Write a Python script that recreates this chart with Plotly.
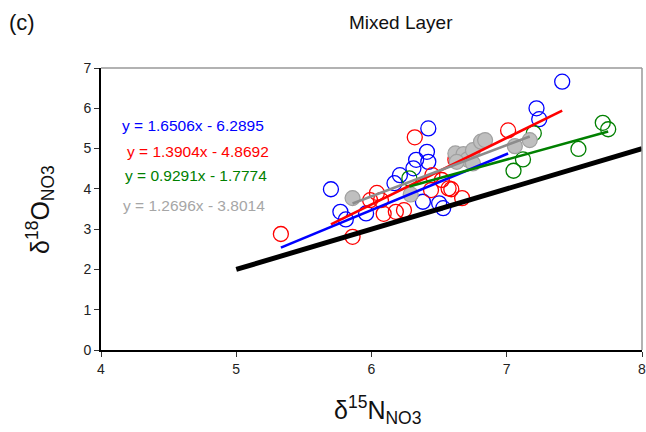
import plotly.graph_objects as go

# ---- data ----
blue_x = [5.70, 5.77, 5.81, 5.96, 6.17, 6.21, 6.31, 6.33, 6.41, 6.42, 6.42, 6.38, 6.50, 6.53, 7.22, 7.24, 7.41]
blue_y = [3.99, 3.43, 3.24, 3.39, 4.14, 4.34, 4.51, 4.72, 4.92, 4.67, 5.50, 3.68, 3.64, 3.52, 6.00, 5.73, 6.66]

red_x = [5.33, 5.86, 5.99, 6.04, 6.07, 6.09, 6.18, 6.24, 6.32, 6.44, 6.45, 6.52, 6.57, 6.59, 6.62, 6.67, 7.01]
red_y = [2.88, 2.81, 3.72, 3.90, 3.72, 3.38, 3.43, 3.47, 5.28, 3.97, 4.34, 4.22, 4.01, 3.99, 4.72, 3.77, 5.45]

green_x = [6.28, 7.05, 7.12, 7.20, 7.53, 7.71, 7.75]
green_y = [4.26, 4.45, 4.73, 5.38, 4.99, 5.64, 5.48]

gray_x = [5.86, 6.29, 6.62, 6.68, 6.71, 6.75, 6.75, 6.81, 6.84, 7.06, 7.17, 6.63]
gray_y = [3.77, 3.86, 4.88, 4.86, 4.73, 4.96, 4.63, 5.17, 5.21, 5.06, 5.21, 4.67]

# trendline equations (as printed), per series
eq_slopes = [1.6506, 1.3904, 0.9291, 1.2696]
eq_intercepts = [-6.2895, -4.8692, -1.7774, -3.8014]
eq_text_colors = ["#0000ff", "#ff0000", "#008000", "#a6a6a6"]
# line colours as drawn in the reference (blue/red lines appear swapped)
eq_line_colors = ["#ff0000", "#0000ff", "#008000", "#8c8c8c"]
eq_series_x = [blue_x, red_x, green_x, gray_x]

# 1:1 reference line
ref_x = [5, 8]
ref_y = [2, 5]

x_ticks = [4, 5, 6, 7, 8]
y_ticks = [0, 1, 2, 3, 4, 5, 6, 7]

FONT = "Liberation Sans, Arial, sans-serif"

fig = go.Figure()

for xs, ys, col in [(blue_x, blue_y, "#0000ff"), (red_x, red_y, "#ff0000"), (green_x, green_y, "#008000")]:
    fig.add_trace(go.Scatter(x=xs, y=ys, mode="markers",
                             marker=dict(symbol="circle-open", size=15, color=col, line=dict(width=1.3, color=col)),
                             showlegend=False, hoverinfo="skip"))

fig.add_trace(go.Scatter(x=gray_x, y=gray_y, mode="markers",
                         marker=dict(symbol="circle", size=15, color="#bfbfbf", line=dict(width=1.2, color="#a0a0a0")),
                         showlegend=False, hoverinfo="skip"))

for m, b, col, xs in zip(eq_slopes, eq_intercepts, eq_line_colors, eq_series_x):
    x0, x1 = min(xs), max(xs)
    fig.add_trace(go.Scatter(x=[x0, x1], y=[m * x0 + b, m * x1 + b], mode="lines",
                             line=dict(color=col, width=2.6), showlegend=False, hoverinfo="skip"))

fig.add_trace(go.Scatter(x=ref_x, y=ref_y, mode="lines", line=dict(color="black", width=5),
                         showlegend=False, hoverinfo="skip"))

# equation labels
label_pos_y = [5.58, 4.92, 4.32, 3.58]
label_pos_x = [4.14, 4.18, 4.165, 4.15]
for m, b, col, lx, ly in zip(eq_slopes, eq_intercepts, eq_text_colors, label_pos_x, label_pos_y):
    fig.add_annotation(x=lx, y=ly, xref="x", yref="y", xanchor="left", yanchor="middle",
                       text=f"y = {m:.4f}x - {abs(b):.4f}", showarrow=False,
                       font=dict(family=FONT, size=15.5, color=col))

fig.update_layout(
    width=646, height=432,
    margin=dict(l=101, r=4, t=68, b=82),
    plot_bgcolor="white", paper_bgcolor="white",
    font=dict(family=FONT, color="#222222"),
    xaxis=dict(range=[4, 8], tickvals=x_ticks, showgrid=False, zeroline=False,
               showline=True, linecolor="black", linewidth=2, automargin=False,
               ticks="outside", ticklen=5, tickwidth=1.2, tickcolor="#333333",
               ticklabeloverflow="allow",
               tickfont=dict(family=FONT, size=14, color="#222222")),
    yaxis=dict(range=[0, 7], tickvals=y_ticks, showgrid=False, zeroline=False,
               showline=True, linecolor="black", linewidth=2, automargin=False,
               ticks="outside", ticklen=5, tickwidth=1.2, tickcolor="#333333",
               tickfont=dict(family=FONT, size=14, color="#222222")),
    shapes=[
        dict(type="line", xref="paper", yref="paper", x0=0, x1=1, y0=1, y1=1,
             line=dict(color="#999999", width=1.5)),
        dict(type="line", xref="paper", yref="paper", x0=1, x1=1, y0=0, y1=1,
             line=dict(color="#999999", width=1.5)),
    ],
)

fig.add_annotation(xref="paper", yref="paper", x=(401 - 101) / 541, y=(350 - 22) / 282,
                   text="Mixed Layer", showarrow=False, xanchor="center", yanchor="middle",
                   font=dict(family=FONT, size=19, color="#111111"))
fig.add_annotation(xref="paper", yref="paper", x=(22 - 101) / 541, y=(350 - 22) / 282,
                   text="(c)", showarrow=False, xanchor="center", yanchor="middle",
                   font=dict(family=FONT, size=22, color="#111111"))
fig.add_annotation(xref="paper", yref="paper", x=(377 - 101) / 541, y=(350 - 410) / 282,
                   text="δ<sup>15</sup>N<sub>NO3</sub>", showarrow=False, xanchor="center", yanchor="middle",
                   font=dict(family=FONT, size=25, color="#111111"))
fig.add_annotation(xref="paper", yref="paper", x=(40 - 101) / 541, y=(350 - 210) / 282,
                   text="δ<sup>18</sup>O<sub>NO3</sub>", showarrow=False, xanchor="center", yanchor="middle",
                   textangle=-90, font=dict(family=FONT, size=25, color="#111111"))

fig.write_html("out.html")
